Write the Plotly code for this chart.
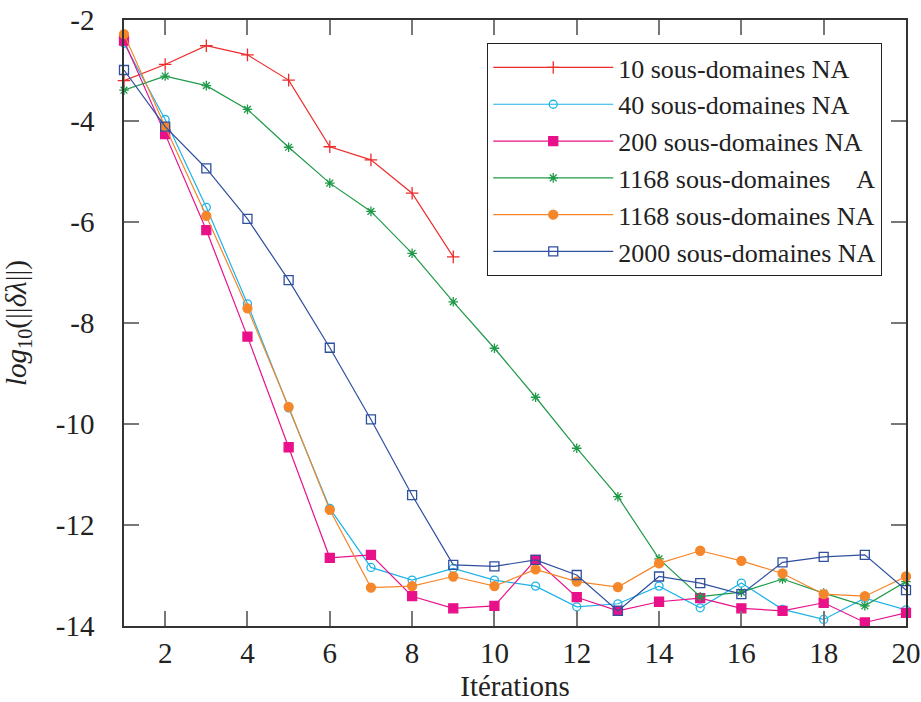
import plotly.graph_objects as go

iterations = list(range(1, 21))

names = [
    "10 sous-domaines NA",
    "40 sous-domaines NA",
    "200 sous-domaines NA",
    "1168 sous-domaines\u00a0\u00a0\u00a0\u00a0A",
    "1168 sous-domaines NA",
    "2000 sous-domaines NA",
]

sd10_na = [-3.20, -2.88, -2.51, -2.69, -3.19, -4.51, -4.77, -5.43, -6.69]
sd40_na = [-2.46, -3.97, -5.71, -7.62, -9.68, -11.67, -12.84, -13.09, -12.86, -13.09,
           -13.21, -13.62, -13.56, -13.21, -13.64, -13.15, -13.67, -13.87, -13.45, -13.68]
sd200_na = [-2.41, -4.26, -6.16, -8.27, -10.46, -12.65, -12.59, -13.41, -13.65, -13.60,
            -12.69, -13.43, -13.70, -13.52, -13.45, -13.65, -13.70, -13.54, -13.93, -13.74]
sd1168_a = [-3.39, -3.11, -3.30, -3.77, -4.52, -5.23, -5.79, -6.62, -7.58, -8.50,
            -9.47, -10.48, -11.44, -12.67, -13.42, -13.33, -13.07, -13.35, -13.60, -13.12]
sd1168_na = [-2.28, -4.11, -5.88, -7.71, -9.66, -11.70, -13.24, -13.21, -13.02, -13.21,
             -12.88, -13.12, -13.23, -12.76, -12.51, -12.71, -12.96, -13.37, -13.41, -13.02]
sd2000_na = [-2.99, -4.11, -4.94, -5.94, -7.15, -8.49, -9.91, -11.41, -12.79, -12.82,
             -12.69, -12.99, -13.70, -13.02, -13.15, -13.37, -12.74, -12.63, -12.59, -13.29]

series = [sd10_na, sd40_na, sd200_na, sd1168_a, sd1168_na, sd2000_na]
colors = ["#ee2b2b", "#1fb3e8", "#e8118a", "#1f9a48", "#f5872a", "#2f4f9f"]
symbols = ["cross-thin-open", "circle-open", "square", "asterisk-open", "circle", "square-open"]
sizes = [9, 8, 9, 8, 9, 9]

x_tick_vals = [2, 4, 6, 8, 10, 12, 14, 16, 18, 20]
x_tick_text = ["2", "4", "6", "8", "10", "12", "14", "16", "18", "20"]
y_tick_vals = [-2, -4, -6, -8, -10, -12, -14]
y_tick_text = ["-2", "-4", "-6", "-8", "-10", "-12", "-14"]

FONT = "Liberation Serif"
FS = 29

fig = go.Figure()
for name, ys, c, s, sz in zip(names, series, colors, symbols, sizes):
    fig.add_trace(go.Scatter(
        x=iterations[:len(ys)], y=ys, name=name, mode="lines+markers",
        line=dict(color=c, width=1.2),
        marker=dict(symbol=s, size=sz, color=c, line=dict(color=c, width=1.3)),
        cliponaxis=False,
    ))

axis_common = dict(
    showgrid=False, zeroline=False, showline=True, linecolor="#333333", linewidth=1.5,
    mirror="ticks", ticks="inside", ticklen=15, tickcolor="#777777", tickwidth=1.5,
    tickfont=dict(family=FONT, size=FS, color="#222222"), automargin=False,
    ticklabeloverflow="allow",
)

fig.update_layout(
    width=921, height=702,
    margin=dict(l=123.5, r=15, t=20, b=76),
    plot_bgcolor="white", paper_bgcolor="white",
    font=dict(family=FONT, size=FS, color="#222222"),
    xaxis=dict(range=[1, 20], tickvals=x_tick_vals, ticktext=x_tick_text,
               ticklabelstandoff=0,
               title=dict(text="Itérations", font=dict(family=FONT, size=FS), standoff=13),
               **axis_common),
    yaxis=dict(range=[-14, -2], tickvals=y_tick_vals, ticktext=y_tick_text,
               ticklabelstandoff=22,
               title=dict(text="<i>log</i><sub>10</sub>(||<i>δλ</i>||)",
                          font=dict(family=FONT, size=FS), standoff=32),
               **axis_common),
    legend=dict(x=0.4645, y=0.962, xanchor="left", yanchor="top",
                bgcolor="white", bordercolor="#222222", borderwidth=1,
                font=dict(family=FONT, size=26, color="#222222"),
                itemwidth=120, tracegroupgap=0),
    showlegend=True,
)

fig.write_html(
    "out.html",
    config={"displayModeBar": False},
    post_script="document.body.style.margin='0';document.body.style.overflow='hidden';",
)
